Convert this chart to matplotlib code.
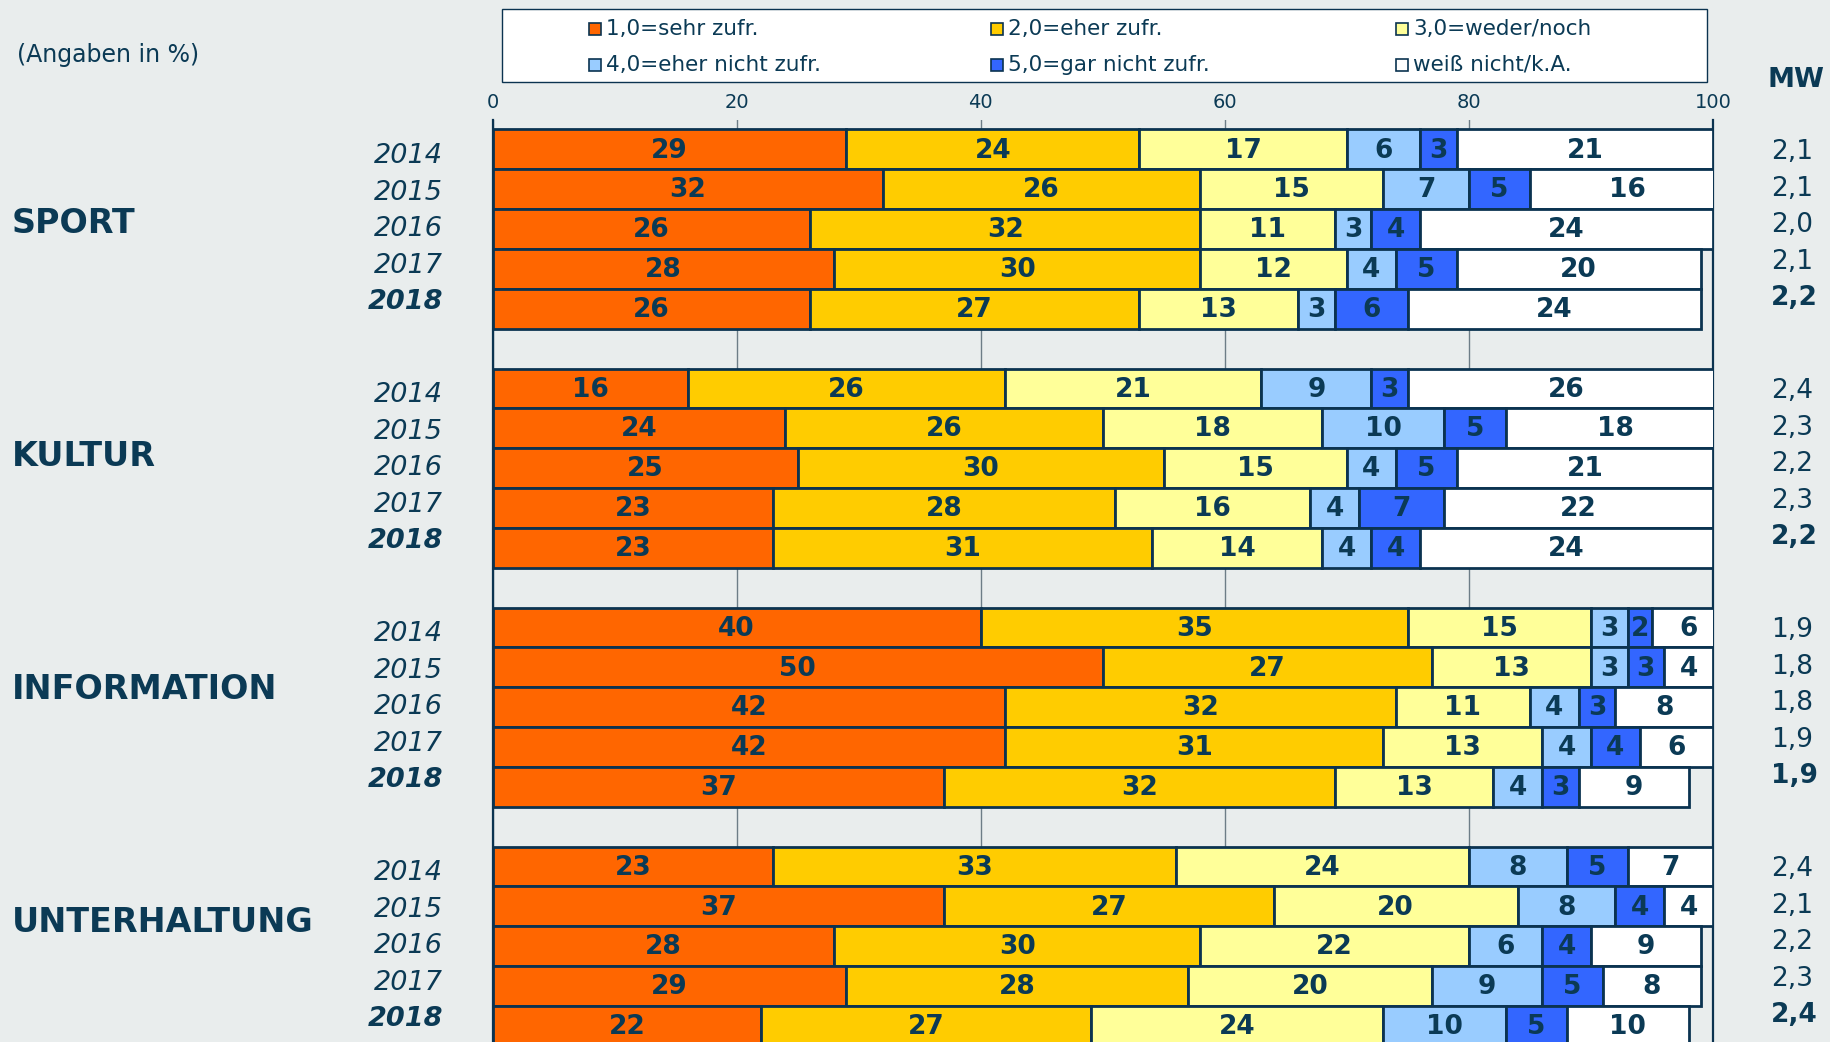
import matplotlib
matplotlib.use("Agg")
from matplotlib import pyplot as plt
from matplotlib.patches import Rectangle

# data (values in %)
categories = ["SPORT", "KULTUR", "INFORMATION", "UNTERHALTUNG"]
years = ["2014", "2015", "2016", "2017", "2018"]
answers = ["1,0=sehr zufr.", "2,0=eher zufr.", "3,0=weder/noch",
           "4,0=eher nicht zufr.", "5,0=gar nicht zufr.", "weiß nicht/k.A."]

sport = [[29, 24, 17, 6, 3, 21],
         [32, 26, 15, 7, 5, 16],
         [26, 32, 11, 3, 4, 24],
         [28, 30, 12, 4, 5, 20],
         [26, 27, 13, 3, 6, 24]]
kultur = [[16, 26, 21, 9, 3, 26],
          [24, 26, 18, 10, 5, 18],
          [25, 30, 15, 4, 5, 21],
          [23, 28, 16, 4, 7, 22],
          [23, 31, 14, 4, 4, 24]]
information = [[40, 35, 15, 3, 2, 6],
               [50, 27, 13, 3, 3, 4],
               [42, 32, 11, 4, 3, 8],
               [42, 31, 13, 4, 4, 6],
               [37, 32, 13, 4, 3, 9]]
unterhaltung = [[23, 33, 24, 8, 5, 7],
                [37, 27, 20, 8, 4, 4],
                [28, 30, 22, 6, 4, 9],
                [29, 28, 20, 9, 5, 8],
                [22, 27, 24, 10, 5, 10]]

mw_sport = ["2,1", "2,1", "2,0", "2,1", "2,2"]
mw_kultur = ["2,4", "2,3", "2,2", "2,3", "2,2"]
mw_information = ["1,9", "1,8", "1,8", "1,9", "1,9"]
mw_unterhaltung = ["2,4", "2,1", "2,2", "2,3", "2,4"]

groups = [sport, kultur, information, unterhaltung]
mw_groups = [mw_sport, mw_kultur, mw_information, mw_unterhaltung]

answer_colors = ["#ff6600", "#ffcc00", "#ffff99", "#99ccff", "#3366ff", "#ffffff"]
bg = "#e9eded"
ink = "#0b3a55"
edge = "#0b3350"

W, H = 1830, 1042


def fx(x):
    return x / W


def fy(y):
    return 1 - y / H


fig = plt.figure(figsize=(W / 100, H / 100), dpi=100, facecolor=bg)
ax = fig.add_axes([fx(492.5), 0, fx(1713) - fx(492.5), fy(120)])
ax.set_facecolor(bg)

pitch = 39.84
row0 = 149.4
ax.set_ylim((H - row0) / pitch, -(row0 - 120) / pitch)
ax.set_xlim(0, 100)

for g, grp in enumerate(groups):
    center = row0 + (g * 6 + 2) * pitch
    for i, vals in enumerate(grp):
        row = g * 6 + i
        left = 0
        for k, v in enumerate(vals):
            ax.barh(row, v, left=left, height=1.0, color=answer_colors[k],
                    edgecolor=edge, linewidth=2.0, zorder=3)
            ax.text(left + v / 2, row + 0.03, str(v), ha="center", va="center",
                    fontsize=19, fontweight="bold", color=ink, zorder=4)
            left += v
        last = i == len(grp) - 1
        # side labels sit a little tighter than the bars
        side_y = center + (i - 2) * pitch * 0.915
        fig.text(fx(443), fy(side_y), years[i], ha="right", va="center",
                 fontsize=19.5, fontstyle="italic",
                 fontweight="bold" if last else "normal", color=ink)
        fig.text(fx(1771), fy(side_y - 4), mw_groups[g][i], ha="left", va="center",
                 fontsize=19, fontweight="bold" if last else "normal", color=ink)
    cat_row = g * 6 + 2 - 0.15 - 0.15 * g
    fig.text(fx(12), fy(row0 + cat_row * pitch), categories[g], ha="left", va="center",
             fontsize=24, fontweight="bold", color=ink)

ax.set_xticks([0, 20, 40, 60, 80, 100])
ax.xaxis.tick_top()
ax.tick_params(axis="x", length=0, labelsize=14, colors=ink, pad=6)
ax.set_yticks([])
ax.grid(axis="x", color="#6d7d87", linewidth=1, zorder=0)
ax.set_axisbelow(True)
for s in ["top", "bottom"]:
    ax.spines[s].set_visible(False)
for s in ["left", "right"]:
    ax.spines[s].set_color(edge)
    ax.spines[s].set_linewidth(1.6)

# header texts
fig.text(fx(17), fy(55), "(Angaben in %)", ha="left", va="center", fontsize=17, color=ink)
fig.text(fx(1768), fy(80), "MW", ha="left", va="center", fontsize=19.5,
         fontweight="bold", color=ink)

# legend box drawn by hand (columns are unevenly spaced in the original)
fig.add_artist(Rectangle((fx(502), fy(82)), fx(1707) - fx(502), fy(9) - fy(82),
                         transform=fig.transFigure, facecolor="white",
                         edgecolor=edge, linewidth=1.0))
leg_x = [589, 991, 1396]
leg_y = [29, 65]
for k, lab in enumerate(answers):
    cx = leg_x[k % 3]
    cy = leg_y[k // 3]
    fig.add_artist(Rectangle((fx(cx), fy(cy + 6)), fx(12), 12 / H,
                             transform=fig.transFigure, facecolor=answer_colors[k],
                             edgecolor=edge, linewidth=1.2))
    fig.text(fx(cx + 17), fy(cy), lab, ha="left", va="center", fontsize=15.5, color=ink)

fig.savefig("out.png", dpi=100, facecolor=bg)
